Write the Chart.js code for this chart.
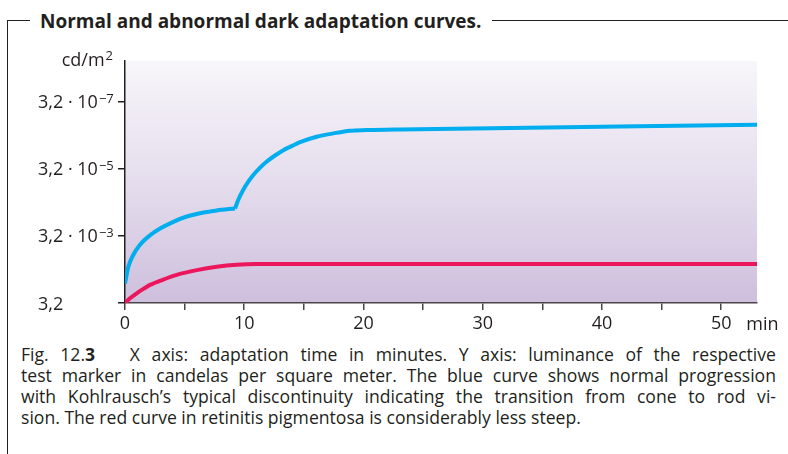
<!DOCTYPE html>
<html>
<head>
<meta charset="utf-8">
<script src="https://cdn.jsdelivr.net/npm/chart.js@4/dist/chart.umd.min.js"></script>
<style>
  body { margin: 0; background: #fff; }
  #page { position: relative; width: 788px; height: 454px; overflow: hidden; font-family: "Open Sans", sans-serif; color: #231f20; }
  #frame { position: absolute; left: 7px; top: 20px; width: 780px; height: 440px; border-left: 1.5px solid #231f20; border-top: 1.5px solid #231f20; }
  #title { position: absolute; left: 30px; top: 8px; margin: 0; padding: 0 11px 0 10px; background: #fff; font-size: 19px; font-weight: bold; line-height: 26px; }
  #plot { position: absolute; left: 0; top: 40px; width: 788px; height: 300px; }
  #caption { position: absolute; left: 21px; top: 344px; width: 755px; font-size: 17.6px; line-height: 21px; }
  #caption div { text-align: justify; text-align-last: justify; }
  #caption div.last { text-align-last: left; }
</style>
</head>
<body>
<div id="page">
  <div id="frame"></div>
  <h1 id="title">Normal and abnormal dark adaptation curves.</h1>
  <div id="plot"><canvas id="darkChart"></canvas></div>
  <div id="caption">
    <div>Fig. 12.<b>3</b>&nbsp;&nbsp; X axis: adaptation time in minutes. Y axis: luminance of the respective</div>
    <div>test marker in candelas per square meter. The blue curve shows normal progression</div>
    <div>with Kohlrausch’s typical discontinuity indicating the transition from cone to rod vi-</div>
    <div class="last">sion. The red curve in retinitis pigmentosa is considerably less steep.</div>
  </div>
</div>
<script>
// time in minutes, threshold as position on the luminance scale (0 = 3,2 cd/m2)
const coneTime = [0, 0.28, 0.70, 1.26, 2.10, 2.94, 4.05, 5.17, 6.29, 7.69, 9.23];
const coneLevel = [0.29, 0.54, 0.72, 0.87, 1.01, 1.11, 1.21, 1.29, 1.34, 1.38, 1.41];
const rodTime = [9.23, 9.50, 9.92, 10.34, 10.76, 11.33, 11.89, 12.58, 13.28, 13.98, 14.68, 16.08, 17.48, 18.88, 20.28, 23.07, 53];
const rodLevel = [1.41, 1.54, 1.69, 1.81, 1.91, 2.02, 2.11, 2.20, 2.28, 2.34, 2.40, 2.48, 2.53, 2.57, 2.58, 2.59, 2.66];
const rpTime = [0, 0.42, 0.98, 1.54, 2.10, 3.21, 4.34, 6.02, 7.69, 9.37, 11.05, 53];
const rpLevel = [0, 0.07, 0.145, 0.21, 0.27, 0.35, 0.42, 0.49, 0.54, 0.57, 0.58, 0.58];

const xTicks = [0, 5, 10, 15, 20, 25, 30, 35, 40, 45, 50];
const yLevels = [0, 1, 2, 3];
const yTickBase = ['3,2', '3,2 · 10', '3,2 · 10', '3,2 · 10'];
const yTickExp = ['', '−3', '−5', '−7'];

const blue = 'rgb(0, 173, 238)';
const red = 'rgb(236, 22, 92)';
const ink = '#231f20';
const fontFamily = '"Open Sans", sans-serif';

function points(xs, ys) {
  return xs.map(function(x, i) { return { x: x, y: ys[i] }; });
}

// lavender wash behind the plot
const backdrop = {
  id: 'backdrop',
  beforeDraw(chart) {
    const a = chart.chartArea;
    const c = chart.ctx;
    const g = c.createLinearGradient(0, a.top, 0, a.bottom);
    g.addColorStop(0, 'rgb(247, 246, 250)');
    g.addColorStop(0.5, 'rgb(229, 221, 237)');
    g.addColorStop(1, 'rgb(206, 191, 221)');
    c.save();
    c.fillStyle = g;
    c.fillRect(a.left, a.top, a.right - a.left, a.bottom - a.top);
    c.restore();
  }
};

// luminance labels with superscript exponents, unit labels
const axisText = {
  id: 'axisText',
  afterDraw(chart) {
    const c = chart.ctx;
    const ys = chart.scales.y;
    const xs = chart.scales.x;
    c.save();
    c.fillStyle = ink;
    c.textBaseline = 'alphabetic';
    yLevels.forEach(function(v, i) {
      const py = ys.getPixelForValue(v);
      c.font = '18px ' + fontFamily;
      c.textAlign = 'left';
      c.fillText(yTickBase[i], 38, py + 6.5);
      if (yTickExp[i]) {
        const w = c.measureText(yTickBase[i]).width;
        c.font = '13px ' + fontFamily;
        c.fillText(yTickExp[i], 38 + w + 1, py + 1);
      }
    });
    // unit above the axis
    c.font = '13px ' + fontFamily;
    const sup = c.measureText('2').width;
    c.textAlign = 'right';
    c.fillText('2', 113, ys.top - 1);
    c.font = '18px ' + fontFamily;
    c.fillText('cd/m', 113 - sup - 1, ys.top + 5);
    // time unit after the last label
    c.textAlign = 'left';
    c.fillText('min', xs.getPixelForValue(50) + 25, xs.top + 27);
    c.restore();
  }
};

function createChart() {
  const ctx = document.getElementById('darkChart').getContext('2d');
  new Chart(ctx, {
    type: 'line',
    data: {
      datasets: [{
        label: 'Normal, cones',
        data: points(coneTime, coneLevel),
        borderColor: blue,
        borderWidth: 4,
        pointRadius: 0,
        cubicInterpolationMode: 'monotone'
      }, {
        label: 'Normal, rods',
        data: points(rodTime, rodLevel),
        borderColor: blue,
        borderWidth: 4,
        pointRadius: 0,
        cubicInterpolationMode: 'monotone'
      }, {
        label: 'Retinitis pigmentosa',
        data: points(rpTime, rpLevel),
        borderColor: red,
        borderWidth: 4,
        pointRadius: 0,
        cubicInterpolationMode: 'monotone'
      }]
    },
    options: {
      responsive: true,
      maintainAspectRatio: false,
      animation: false,
      layout: { padding: { top: 21, right: 31, left: 0, bottom: 0 } },
      plugins: {
        legend: { display: false },
        tooltip: { enabled: false }
      },
      scales: {
        x: {
          type: 'linear',
          min: 0,
          max: 53,
          afterBuildTicks: function(s) { s.ticks = xTicks.map(function(v) { return { value: v }; }); },
          afterFit: function(s) { s.height = 37; },
          ticks: {
            autoSkip: false,
            maxRotation: 0,
            padding: 3,
            color: ink,
            font: { family: fontFamily, size: 18 },
            callback: function(v) { return v % 10 === 0 ? String(v) : ''; }
          },
          grid: { drawOnChartArea: false, tickLength: 7, color: '#4a4548', lineWidth: 1.5 },
          border: { color: '#4a4548', width: 1.5 }
        },
        y: {
          min: 0,
          max: 3.61,
          afterBuildTicks: function(s) { s.ticks = yLevels.map(function(v) { return { value: v }; }); },
          afterFit: function(s) { s.width = 125; },
          ticks: { display: false },
          grid: { drawOnChartArea: false, tickLength: 7, color: ink, lineWidth: 1.5 },
          border: { color: ink, width: 1.5 }
        }
      }
    },
    plugins: [backdrop, axisText]
  });
}

createChart();
</script>
</body>
</html>
